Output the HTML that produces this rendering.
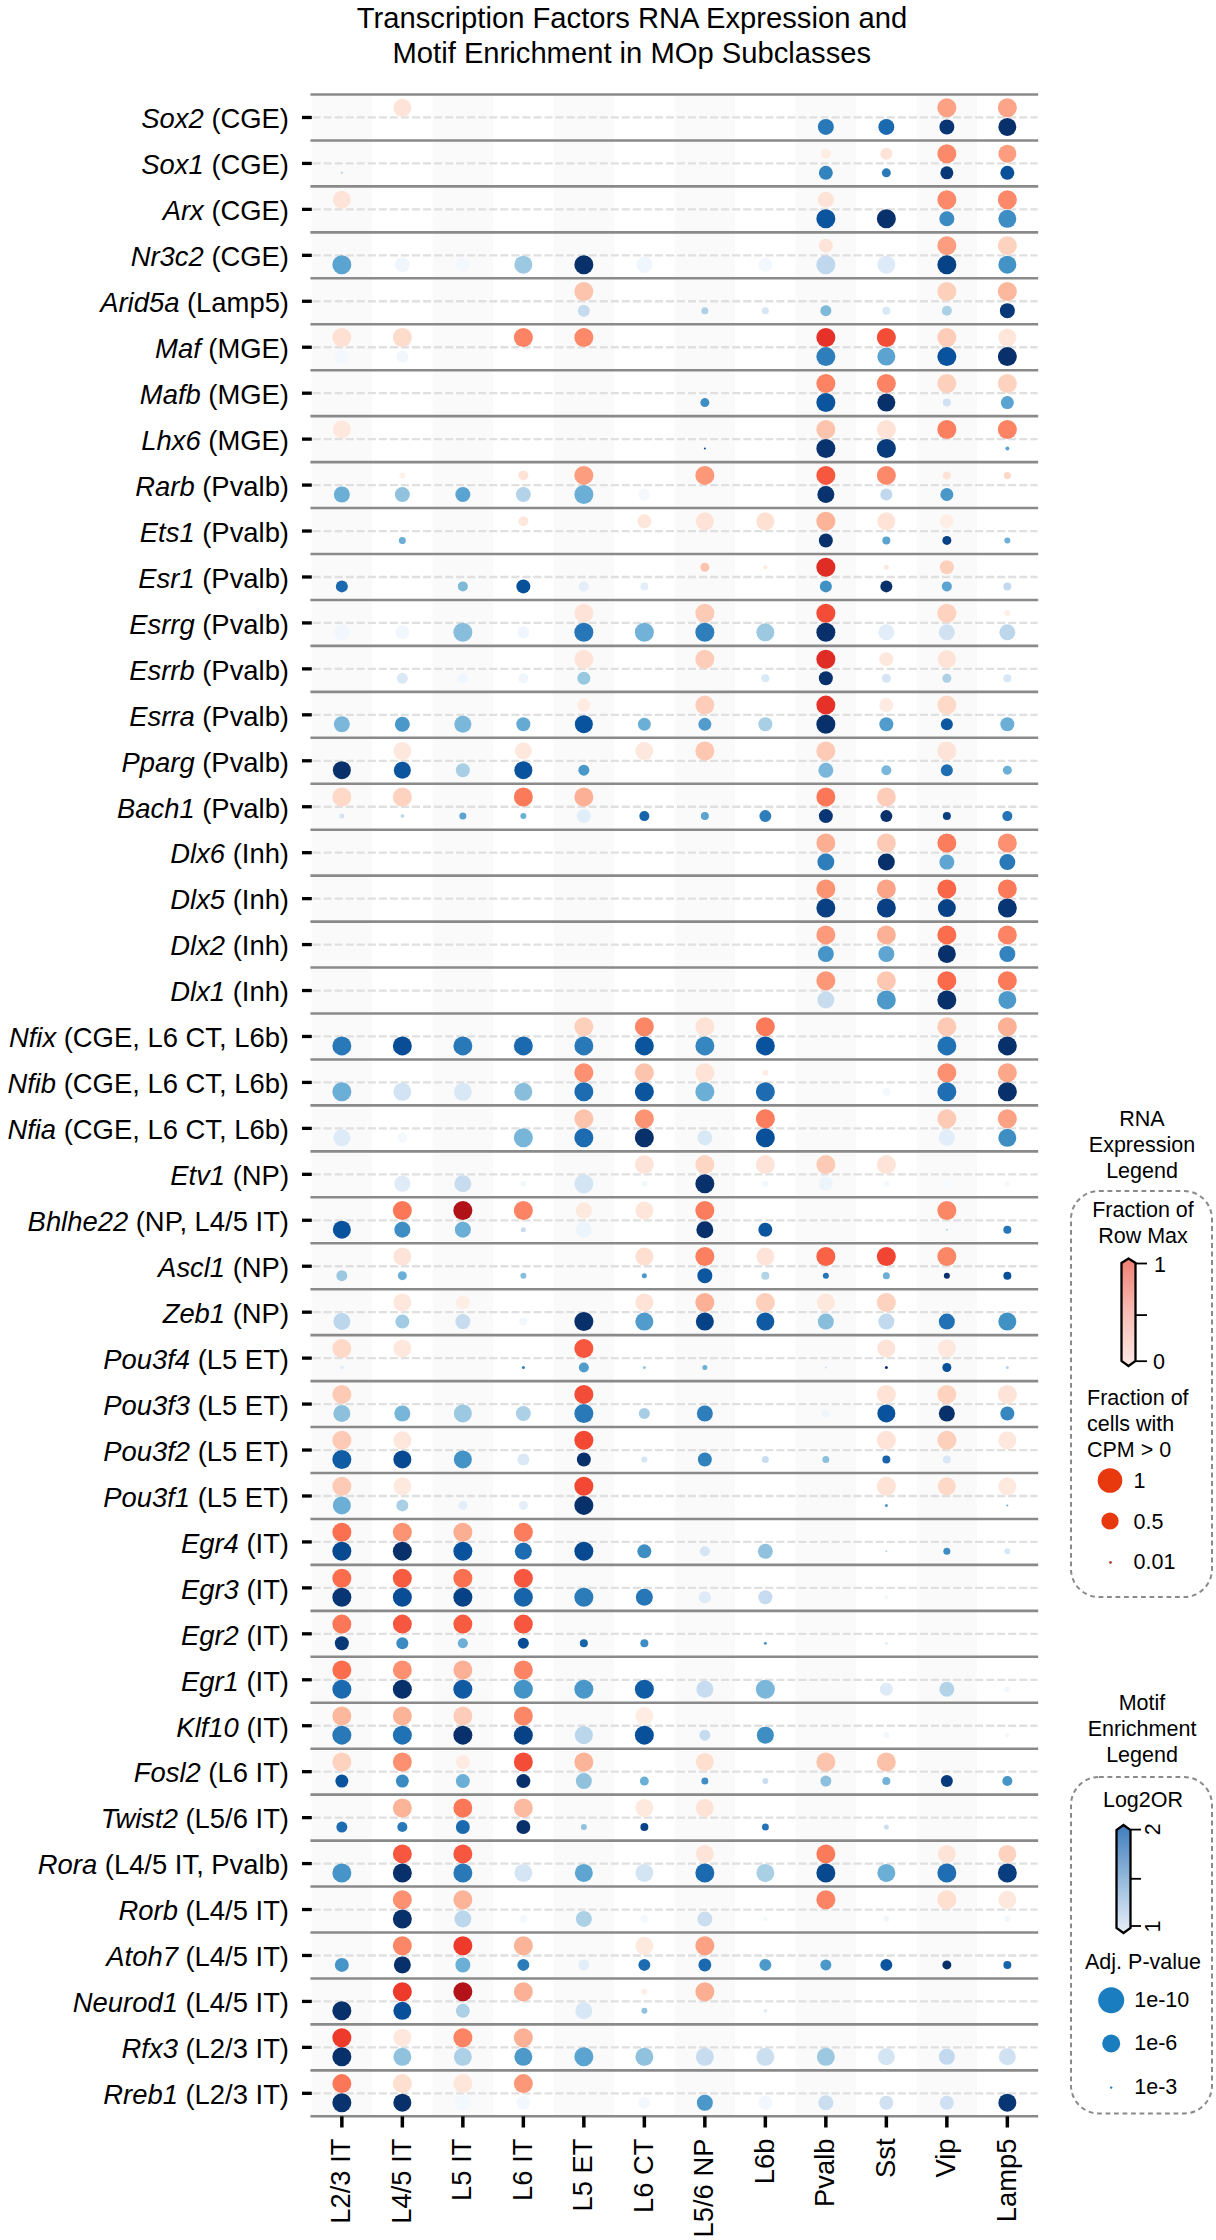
<!DOCTYPE html><html><head><meta charset="utf-8"><style>html,body{margin:0;padding:0;background:#fff;}svg{display:block;font-family:"Liberation Sans",sans-serif;}</style></head><body>
<svg width="1216" height="2240" viewBox="0 0 1216 2240">
<rect width="1216" height="2240" fill="#fff"/>
<rect x="311.60" y="94.50" width="60.50" height="2021.80" fill="#fafafa"/>
<rect x="432.60" y="94.50" width="60.50" height="2021.80" fill="#fafafa"/>
<rect x="553.60" y="94.50" width="60.50" height="2021.80" fill="#fafafa"/>
<rect x="674.60" y="94.50" width="60.50" height="2021.80" fill="#fafafa"/>
<rect x="795.60" y="94.50" width="60.50" height="2021.80" fill="#fafafa"/>
<rect x="916.60" y="94.50" width="60.50" height="2021.80" fill="#fafafa"/>
<line x1="312.6" y1="117.47" x2="1037.6" y2="117.47" stroke="#e0e0e0" stroke-width="2.3" stroke-dasharray="8.03 3.012"/>
<line x1="312.6" y1="163.43" x2="1037.6" y2="163.43" stroke="#e0e0e0" stroke-width="2.3" stroke-dasharray="8.03 3.012"/>
<line x1="312.6" y1="209.38" x2="1037.6" y2="209.38" stroke="#e0e0e0" stroke-width="2.3" stroke-dasharray="8.03 3.012"/>
<line x1="312.6" y1="255.33" x2="1037.6" y2="255.33" stroke="#e0e0e0" stroke-width="2.3" stroke-dasharray="8.03 3.012"/>
<line x1="312.6" y1="301.27" x2="1037.6" y2="301.27" stroke="#e0e0e0" stroke-width="2.3" stroke-dasharray="8.03 3.012"/>
<line x1="312.6" y1="347.23" x2="1037.6" y2="347.23" stroke="#e0e0e0" stroke-width="2.3" stroke-dasharray="8.03 3.012"/>
<line x1="312.6" y1="393.18" x2="1037.6" y2="393.18" stroke="#e0e0e0" stroke-width="2.3" stroke-dasharray="8.03 3.012"/>
<line x1="312.6" y1="439.12" x2="1037.6" y2="439.12" stroke="#e0e0e0" stroke-width="2.3" stroke-dasharray="8.03 3.012"/>
<line x1="312.6" y1="485.08" x2="1037.6" y2="485.08" stroke="#e0e0e0" stroke-width="2.3" stroke-dasharray="8.03 3.012"/>
<line x1="312.6" y1="531.03" x2="1037.6" y2="531.03" stroke="#e0e0e0" stroke-width="2.3" stroke-dasharray="8.03 3.012"/>
<line x1="312.6" y1="576.98" x2="1037.6" y2="576.98" stroke="#e0e0e0" stroke-width="2.3" stroke-dasharray="8.03 3.012"/>
<line x1="312.6" y1="622.93" x2="1037.6" y2="622.93" stroke="#e0e0e0" stroke-width="2.3" stroke-dasharray="8.03 3.012"/>
<line x1="312.6" y1="668.88" x2="1037.6" y2="668.88" stroke="#e0e0e0" stroke-width="2.3" stroke-dasharray="8.03 3.012"/>
<line x1="312.6" y1="714.83" x2="1037.6" y2="714.83" stroke="#e0e0e0" stroke-width="2.3" stroke-dasharray="8.03 3.012"/>
<line x1="312.6" y1="760.78" x2="1037.6" y2="760.78" stroke="#e0e0e0" stroke-width="2.3" stroke-dasharray="8.03 3.012"/>
<line x1="312.6" y1="806.73" x2="1037.6" y2="806.73" stroke="#e0e0e0" stroke-width="2.3" stroke-dasharray="8.03 3.012"/>
<line x1="312.6" y1="852.68" x2="1037.6" y2="852.68" stroke="#e0e0e0" stroke-width="2.3" stroke-dasharray="8.03 3.012"/>
<line x1="312.6" y1="898.62" x2="1037.6" y2="898.62" stroke="#e0e0e0" stroke-width="2.3" stroke-dasharray="8.03 3.012"/>
<line x1="312.6" y1="944.58" x2="1037.6" y2="944.58" stroke="#e0e0e0" stroke-width="2.3" stroke-dasharray="8.03 3.012"/>
<line x1="312.6" y1="990.53" x2="1037.6" y2="990.53" stroke="#e0e0e0" stroke-width="2.3" stroke-dasharray="8.03 3.012"/>
<line x1="312.6" y1="1036.47" x2="1037.6" y2="1036.47" stroke="#e0e0e0" stroke-width="2.3" stroke-dasharray="8.03 3.012"/>
<line x1="312.6" y1="1082.43" x2="1037.6" y2="1082.43" stroke="#e0e0e0" stroke-width="2.3" stroke-dasharray="8.03 3.012"/>
<line x1="312.6" y1="1128.38" x2="1037.6" y2="1128.38" stroke="#e0e0e0" stroke-width="2.3" stroke-dasharray="8.03 3.012"/>
<line x1="312.6" y1="1174.33" x2="1037.6" y2="1174.33" stroke="#e0e0e0" stroke-width="2.3" stroke-dasharray="8.03 3.012"/>
<line x1="312.6" y1="1220.28" x2="1037.6" y2="1220.28" stroke="#e0e0e0" stroke-width="2.3" stroke-dasharray="8.03 3.012"/>
<line x1="312.6" y1="1266.23" x2="1037.6" y2="1266.23" stroke="#e0e0e0" stroke-width="2.3" stroke-dasharray="8.03 3.012"/>
<line x1="312.6" y1="1312.18" x2="1037.6" y2="1312.18" stroke="#e0e0e0" stroke-width="2.3" stroke-dasharray="8.03 3.012"/>
<line x1="312.6" y1="1358.12" x2="1037.6" y2="1358.12" stroke="#e0e0e0" stroke-width="2.3" stroke-dasharray="8.03 3.012"/>
<line x1="312.6" y1="1404.08" x2="1037.6" y2="1404.08" stroke="#e0e0e0" stroke-width="2.3" stroke-dasharray="8.03 3.012"/>
<line x1="312.6" y1="1450.03" x2="1037.6" y2="1450.03" stroke="#e0e0e0" stroke-width="2.3" stroke-dasharray="8.03 3.012"/>
<line x1="312.6" y1="1495.98" x2="1037.6" y2="1495.98" stroke="#e0e0e0" stroke-width="2.3" stroke-dasharray="8.03 3.012"/>
<line x1="312.6" y1="1541.93" x2="1037.6" y2="1541.93" stroke="#e0e0e0" stroke-width="2.3" stroke-dasharray="8.03 3.012"/>
<line x1="312.6" y1="1587.88" x2="1037.6" y2="1587.88" stroke="#e0e0e0" stroke-width="2.3" stroke-dasharray="8.03 3.012"/>
<line x1="312.6" y1="1633.83" x2="1037.6" y2="1633.83" stroke="#e0e0e0" stroke-width="2.3" stroke-dasharray="8.03 3.012"/>
<line x1="312.6" y1="1679.78" x2="1037.6" y2="1679.78" stroke="#e0e0e0" stroke-width="2.3" stroke-dasharray="8.03 3.012"/>
<line x1="312.6" y1="1725.73" x2="1037.6" y2="1725.73" stroke="#e0e0e0" stroke-width="2.3" stroke-dasharray="8.03 3.012"/>
<line x1="312.6" y1="1771.68" x2="1037.6" y2="1771.68" stroke="#e0e0e0" stroke-width="2.3" stroke-dasharray="8.03 3.012"/>
<line x1="312.6" y1="1817.62" x2="1037.6" y2="1817.62" stroke="#e0e0e0" stroke-width="2.3" stroke-dasharray="8.03 3.012"/>
<line x1="312.6" y1="1863.58" x2="1037.6" y2="1863.58" stroke="#e0e0e0" stroke-width="2.3" stroke-dasharray="8.03 3.012"/>
<line x1="312.6" y1="1909.53" x2="1037.6" y2="1909.53" stroke="#e0e0e0" stroke-width="2.3" stroke-dasharray="8.03 3.012"/>
<line x1="312.6" y1="1955.48" x2="1037.6" y2="1955.48" stroke="#e0e0e0" stroke-width="2.3" stroke-dasharray="8.03 3.012"/>
<line x1="312.6" y1="2001.43" x2="1037.6" y2="2001.43" stroke="#e0e0e0" stroke-width="2.3" stroke-dasharray="8.03 3.012"/>
<line x1="312.6" y1="2047.38" x2="1037.6" y2="2047.38" stroke="#e0e0e0" stroke-width="2.3" stroke-dasharray="8.03 3.012"/>
<line x1="312.6" y1="2093.32" x2="1037.6" y2="2093.32" stroke="#e0e0e0" stroke-width="2.3" stroke-dasharray="8.03 3.012"/>
<line x1="310.4" y1="94.50" x2="1038.2" y2="94.50" stroke="#8a8a8a" stroke-width="2.6"/>
<line x1="310.4" y1="140.45" x2="1038.2" y2="140.45" stroke="#8a8a8a" stroke-width="2.6"/>
<line x1="310.4" y1="186.40" x2="1038.2" y2="186.40" stroke="#8a8a8a" stroke-width="2.6"/>
<line x1="310.4" y1="232.35" x2="1038.2" y2="232.35" stroke="#8a8a8a" stroke-width="2.6"/>
<line x1="310.4" y1="278.30" x2="1038.2" y2="278.30" stroke="#8a8a8a" stroke-width="2.6"/>
<line x1="310.4" y1="324.25" x2="1038.2" y2="324.25" stroke="#8a8a8a" stroke-width="2.6"/>
<line x1="310.4" y1="370.20" x2="1038.2" y2="370.20" stroke="#8a8a8a" stroke-width="2.6"/>
<line x1="310.4" y1="416.15" x2="1038.2" y2="416.15" stroke="#8a8a8a" stroke-width="2.6"/>
<line x1="310.4" y1="462.10" x2="1038.2" y2="462.10" stroke="#8a8a8a" stroke-width="2.6"/>
<line x1="310.4" y1="508.05" x2="1038.2" y2="508.05" stroke="#8a8a8a" stroke-width="2.6"/>
<line x1="310.4" y1="554.00" x2="1038.2" y2="554.00" stroke="#8a8a8a" stroke-width="2.6"/>
<line x1="310.4" y1="599.95" x2="1038.2" y2="599.95" stroke="#8a8a8a" stroke-width="2.6"/>
<line x1="310.4" y1="645.90" x2="1038.2" y2="645.90" stroke="#8a8a8a" stroke-width="2.6"/>
<line x1="310.4" y1="691.85" x2="1038.2" y2="691.85" stroke="#8a8a8a" stroke-width="2.6"/>
<line x1="310.4" y1="737.80" x2="1038.2" y2="737.80" stroke="#8a8a8a" stroke-width="2.6"/>
<line x1="310.4" y1="783.75" x2="1038.2" y2="783.75" stroke="#8a8a8a" stroke-width="2.6"/>
<line x1="310.4" y1="829.70" x2="1038.2" y2="829.70" stroke="#8a8a8a" stroke-width="2.6"/>
<line x1="310.4" y1="875.65" x2="1038.2" y2="875.65" stroke="#8a8a8a" stroke-width="2.6"/>
<line x1="310.4" y1="921.60" x2="1038.2" y2="921.60" stroke="#8a8a8a" stroke-width="2.6"/>
<line x1="310.4" y1="967.55" x2="1038.2" y2="967.55" stroke="#8a8a8a" stroke-width="2.6"/>
<line x1="310.4" y1="1013.50" x2="1038.2" y2="1013.50" stroke="#8a8a8a" stroke-width="2.6"/>
<line x1="310.4" y1="1059.45" x2="1038.2" y2="1059.45" stroke="#8a8a8a" stroke-width="2.6"/>
<line x1="310.4" y1="1105.40" x2="1038.2" y2="1105.40" stroke="#8a8a8a" stroke-width="2.6"/>
<line x1="310.4" y1="1151.35" x2="1038.2" y2="1151.35" stroke="#8a8a8a" stroke-width="2.6"/>
<line x1="310.4" y1="1197.30" x2="1038.2" y2="1197.30" stroke="#8a8a8a" stroke-width="2.6"/>
<line x1="310.4" y1="1243.25" x2="1038.2" y2="1243.25" stroke="#8a8a8a" stroke-width="2.6"/>
<line x1="310.4" y1="1289.20" x2="1038.2" y2="1289.20" stroke="#8a8a8a" stroke-width="2.6"/>
<line x1="310.4" y1="1335.15" x2="1038.2" y2="1335.15" stroke="#8a8a8a" stroke-width="2.6"/>
<line x1="310.4" y1="1381.10" x2="1038.2" y2="1381.10" stroke="#8a8a8a" stroke-width="2.6"/>
<line x1="310.4" y1="1427.05" x2="1038.2" y2="1427.05" stroke="#8a8a8a" stroke-width="2.6"/>
<line x1="310.4" y1="1473.00" x2="1038.2" y2="1473.00" stroke="#8a8a8a" stroke-width="2.6"/>
<line x1="310.4" y1="1518.95" x2="1038.2" y2="1518.95" stroke="#8a8a8a" stroke-width="2.6"/>
<line x1="310.4" y1="1564.90" x2="1038.2" y2="1564.90" stroke="#8a8a8a" stroke-width="2.6"/>
<line x1="310.4" y1="1610.85" x2="1038.2" y2="1610.85" stroke="#8a8a8a" stroke-width="2.6"/>
<line x1="310.4" y1="1656.80" x2="1038.2" y2="1656.80" stroke="#8a8a8a" stroke-width="2.6"/>
<line x1="310.4" y1="1702.75" x2="1038.2" y2="1702.75" stroke="#8a8a8a" stroke-width="2.6"/>
<line x1="310.4" y1="1748.70" x2="1038.2" y2="1748.70" stroke="#8a8a8a" stroke-width="2.6"/>
<line x1="310.4" y1="1794.65" x2="1038.2" y2="1794.65" stroke="#8a8a8a" stroke-width="2.6"/>
<line x1="310.4" y1="1840.60" x2="1038.2" y2="1840.60" stroke="#8a8a8a" stroke-width="2.6"/>
<line x1="310.4" y1="1886.55" x2="1038.2" y2="1886.55" stroke="#8a8a8a" stroke-width="2.6"/>
<line x1="310.4" y1="1932.50" x2="1038.2" y2="1932.50" stroke="#8a8a8a" stroke-width="2.6"/>
<line x1="310.4" y1="1978.45" x2="1038.2" y2="1978.45" stroke="#8a8a8a" stroke-width="2.6"/>
<line x1="310.4" y1="2024.40" x2="1038.2" y2="2024.40" stroke="#8a8a8a" stroke-width="2.6"/>
<line x1="310.4" y1="2070.35" x2="1038.2" y2="2070.35" stroke="#8a8a8a" stroke-width="2.6"/>
<line x1="310.4" y1="2116.30" x2="1038.2" y2="2116.30" stroke="#8a8a8a" stroke-width="2.6"/>
<circle cx="402.35" cy="107.77" r="9.00" fill="#fee4d8"/>
<circle cx="946.85" cy="107.77" r="9.50" fill="#fca183"/>
<circle cx="1007.35" cy="107.77" r="9.50" fill="#fca487"/>
<circle cx="825.85" cy="126.88" r="8.00" fill="#2979b9"/>
<circle cx="886.35" cy="126.88" r="8.00" fill="#1b69af"/>
<circle cx="946.85" cy="126.88" r="7.50" fill="#083573"/>
<circle cx="1007.35" cy="126.88" r="9.00" fill="#08306b"/>
<circle cx="825.85" cy="153.73" r="5.00" fill="#ffede4"/>
<circle cx="886.35" cy="153.73" r="6.00" fill="#fee4d8"/>
<circle cx="946.85" cy="153.73" r="9.50" fill="#fc8a6a"/>
<circle cx="1007.35" cy="153.73" r="9.00" fill="#fc9d7f"/>
<circle cx="341.85" cy="172.83" r="1.00" fill="#a6cde4"/>
<circle cx="825.85" cy="172.83" r="7.00" fill="#3383bf"/>
<circle cx="886.35" cy="172.83" r="4.50" fill="#2979b9"/>
<circle cx="946.85" cy="172.83" r="6.50" fill="#083877"/>
<circle cx="1007.35" cy="172.83" r="7.00" fill="#08509a"/>
<circle cx="341.85" cy="199.68" r="9.00" fill="#fee4d8"/>
<circle cx="825.85" cy="199.68" r="8.00" fill="#fee4d8"/>
<circle cx="946.85" cy="199.68" r="9.50" fill="#fc8a6a"/>
<circle cx="1007.35" cy="199.68" r="9.50" fill="#fc8a6a"/>
<circle cx="825.85" cy="218.78" r="9.50" fill="#0b559f"/>
<circle cx="886.35" cy="218.78" r="9.50" fill="#08306b"/>
<circle cx="946.85" cy="218.78" r="7.50" fill="#3b8bc3"/>
<circle cx="1007.35" cy="218.78" r="9.00" fill="#3e8ec4"/>
<circle cx="825.85" cy="245.63" r="7.00" fill="#fee4d8"/>
<circle cx="946.85" cy="245.63" r="9.50" fill="#fc9d7f"/>
<circle cx="1007.35" cy="245.63" r="9.50" fill="#fdd3c0"/>
<circle cx="341.85" cy="264.73" r="9.50" fill="#5ba3d0"/>
<circle cx="402.35" cy="264.73" r="7.50" fill="#f0f6fd"/>
<circle cx="462.85" cy="264.73" r="7.00" fill="#f2f8fd"/>
<circle cx="523.35" cy="264.73" r="9.00" fill="#9cc9e1"/>
<circle cx="583.85" cy="264.73" r="9.50" fill="#08306b"/>
<circle cx="644.35" cy="264.73" r="8.00" fill="#f0f6fd"/>
<circle cx="765.35" cy="264.73" r="7.00" fill="#f2f8fd"/>
<circle cx="825.85" cy="264.73" r="9.50" fill="#c0d8ed"/>
<circle cx="886.35" cy="264.73" r="9.00" fill="#ddeaf7"/>
<circle cx="946.85" cy="264.73" r="9.50" fill="#084286"/>
<circle cx="1007.35" cy="264.73" r="9.00" fill="#4493c7"/>
<circle cx="583.85" cy="291.57" r="9.50" fill="#fcc4ad"/>
<circle cx="946.85" cy="291.57" r="9.50" fill="#fdd0bc"/>
<circle cx="1007.35" cy="291.57" r="9.50" fill="#fcb89d"/>
<circle cx="583.85" cy="310.67" r="6.00" fill="#c6dbef"/>
<circle cx="704.85" cy="310.67" r="3.50" fill="#acd0e6"/>
<circle cx="765.35" cy="310.67" r="3.50" fill="#d5e5f4"/>
<circle cx="825.85" cy="310.67" r="5.50" fill="#7fb9da"/>
<circle cx="886.35" cy="310.67" r="4.00" fill="#d9e8f5"/>
<circle cx="946.85" cy="310.67" r="5.00" fill="#acd0e6"/>
<circle cx="1007.35" cy="310.67" r="7.50" fill="#083877"/>
<circle cx="341.85" cy="337.53" r="9.50" fill="#fee1d3"/>
<circle cx="402.35" cy="337.53" r="9.50" fill="#fedccc"/>
<circle cx="523.35" cy="337.53" r="9.50" fill="#fc8464"/>
<circle cx="583.85" cy="337.53" r="9.50" fill="#fc8a6a"/>
<circle cx="825.85" cy="337.53" r="9.50" fill="#e53128"/>
<circle cx="886.35" cy="337.53" r="9.50" fill="#f34c37"/>
<circle cx="946.85" cy="337.53" r="9.50" fill="#fdcdb9"/>
<circle cx="1007.35" cy="337.53" r="9.00" fill="#fee6da"/>
<circle cx="341.85" cy="356.62" r="7.00" fill="#f2f8fd"/>
<circle cx="402.35" cy="356.62" r="6.00" fill="#f1f7fd"/>
<circle cx="825.85" cy="356.62" r="9.50" fill="#2e7ebc"/>
<circle cx="886.35" cy="356.62" r="9.00" fill="#5ba3d0"/>
<circle cx="946.85" cy="356.62" r="9.50" fill="#09529d"/>
<circle cx="1007.35" cy="356.62" r="9.50" fill="#08306b"/>
<circle cx="825.85" cy="383.48" r="9.50" fill="#fc8464"/>
<circle cx="886.35" cy="383.48" r="9.50" fill="#fc8464"/>
<circle cx="946.85" cy="383.48" r="9.50" fill="#fdd0bc"/>
<circle cx="1007.35" cy="383.48" r="9.50" fill="#fdd3c0"/>
<circle cx="704.85" cy="402.57" r="4.50" fill="#3e8ec4"/>
<circle cx="825.85" cy="402.57" r="9.50" fill="#0b559f"/>
<circle cx="886.35" cy="402.57" r="9.00" fill="#08306b"/>
<circle cx="946.85" cy="402.57" r="4.00" fill="#d0e1f2"/>
<circle cx="1007.35" cy="402.57" r="6.50" fill="#5ba3d0"/>
<circle cx="341.85" cy="429.43" r="9.00" fill="#fee8dd"/>
<circle cx="825.85" cy="429.43" r="9.50" fill="#fcc4ad"/>
<circle cx="886.35" cy="429.43" r="9.50" fill="#fee3d6"/>
<circle cx="946.85" cy="429.43" r="9.50" fill="#fc8060"/>
<circle cx="1007.35" cy="429.43" r="9.50" fill="#fc8464"/>
<circle cx="704.85" cy="448.52" r="1.00" fill="#084a92"/>
<circle cx="825.85" cy="448.52" r="9.50" fill="#08336f"/>
<circle cx="886.35" cy="448.52" r="9.50" fill="#083b7b"/>
<circle cx="1007.35" cy="448.52" r="2.00" fill="#5ba3d0"/>
<circle cx="402.35" cy="475.38" r="3.00" fill="#fff0e9"/>
<circle cx="523.35" cy="475.38" r="5.00" fill="#fee3d6"/>
<circle cx="583.85" cy="475.38" r="9.50" fill="#fc9d7f"/>
<circle cx="704.85" cy="475.38" r="9.50" fill="#fc9778"/>
<circle cx="825.85" cy="475.38" r="9.50" fill="#f6573e"/>
<circle cx="886.35" cy="475.38" r="9.50" fill="#fc8a6a"/>
<circle cx="946.85" cy="475.38" r="4.00" fill="#fee3d6"/>
<circle cx="1007.35" cy="475.38" r="3.50" fill="#fdd6c4"/>
<circle cx="341.85" cy="494.48" r="8.00" fill="#6baed6"/>
<circle cx="402.35" cy="494.48" r="7.50" fill="#90c2de"/>
<circle cx="462.85" cy="494.48" r="7.50" fill="#5ba3d0"/>
<circle cx="523.35" cy="494.48" r="7.50" fill="#b3d3e8"/>
<circle cx="583.85" cy="494.48" r="9.50" fill="#6baed6"/>
<circle cx="644.35" cy="494.48" r="6.00" fill="#f5f9fe"/>
<circle cx="825.85" cy="494.48" r="8.50" fill="#08336f"/>
<circle cx="886.35" cy="494.48" r="6.00" fill="#c0d8ed"/>
<circle cx="946.85" cy="494.48" r="6.50" fill="#4a98c9"/>
<circle cx="523.35" cy="521.33" r="5.00" fill="#fee8dd"/>
<circle cx="644.35" cy="521.33" r="7.00" fill="#fee6da"/>
<circle cx="704.85" cy="521.33" r="9.00" fill="#fee3d6"/>
<circle cx="765.35" cy="521.33" r="9.00" fill="#fee1d3"/>
<circle cx="825.85" cy="521.33" r="9.50" fill="#fcb499"/>
<circle cx="886.35" cy="521.33" r="9.00" fill="#fee3d6"/>
<circle cx="946.85" cy="521.33" r="7.00" fill="#ffeee6"/>
<circle cx="402.35" cy="540.43" r="3.50" fill="#6baed6"/>
<circle cx="825.85" cy="540.43" r="7.00" fill="#08306b"/>
<circle cx="886.35" cy="540.43" r="4.00" fill="#5ba3d0"/>
<circle cx="946.85" cy="540.43" r="4.50" fill="#084286"/>
<circle cx="1007.35" cy="540.43" r="3.00" fill="#6baed6"/>
<circle cx="704.85" cy="567.27" r="4.50" fill="#fcc4ad"/>
<circle cx="765.35" cy="567.27" r="2.00" fill="#fee8dd"/>
<circle cx="825.85" cy="567.27" r="9.50" fill="#df2c25"/>
<circle cx="886.35" cy="567.27" r="2.50" fill="#fee8dd"/>
<circle cx="946.85" cy="567.27" r="7.00" fill="#fdd0bc"/>
<circle cx="341.85" cy="586.38" r="6.00" fill="#1b69af"/>
<circle cx="462.85" cy="586.38" r="5.00" fill="#7fb9da"/>
<circle cx="523.35" cy="586.38" r="7.00" fill="#08509a"/>
<circle cx="583.85" cy="586.38" r="5.00" fill="#e3eef9"/>
<circle cx="644.35" cy="586.38" r="4.00" fill="#e3eef9"/>
<circle cx="825.85" cy="586.38" r="6.00" fill="#4191c5"/>
<circle cx="886.35" cy="586.38" r="6.00" fill="#08306b"/>
<circle cx="946.85" cy="586.38" r="5.00" fill="#5ba3d0"/>
<circle cx="1007.35" cy="586.38" r="4.00" fill="#c3daee"/>
<circle cx="583.85" cy="613.23" r="9.50" fill="#fee4d8"/>
<circle cx="704.85" cy="613.23" r="9.50" fill="#fdcab5"/>
<circle cx="825.85" cy="613.23" r="9.50" fill="#f34c37"/>
<circle cx="946.85" cy="613.23" r="9.50" fill="#fdd3c0"/>
<circle cx="1007.35" cy="613.23" r="3.00" fill="#ffeee6"/>
<circle cx="341.85" cy="632.33" r="8.00" fill="#f1f7fd"/>
<circle cx="402.35" cy="632.33" r="7.00" fill="#f1f7fd"/>
<circle cx="462.85" cy="632.33" r="9.50" fill="#88bedc"/>
<circle cx="523.35" cy="632.33" r="6.00" fill="#f0f6fd"/>
<circle cx="583.85" cy="632.33" r="9.50" fill="#2676b8"/>
<circle cx="644.35" cy="632.33" r="9.50" fill="#73b2d8"/>
<circle cx="704.85" cy="632.33" r="9.50" fill="#2e7ebc"/>
<circle cx="765.35" cy="632.33" r="9.00" fill="#9cc9e1"/>
<circle cx="825.85" cy="632.33" r="9.50" fill="#08306b"/>
<circle cx="886.35" cy="632.33" r="8.00" fill="#e1edf8"/>
<circle cx="946.85" cy="632.33" r="8.00" fill="#d0e1f2"/>
<circle cx="1007.35" cy="632.33" r="8.00" fill="#bcd7ec"/>
<circle cx="583.85" cy="659.17" r="9.50" fill="#fee4d8"/>
<circle cx="704.85" cy="659.17" r="9.50" fill="#fdcdb9"/>
<circle cx="825.85" cy="659.17" r="9.50" fill="#df2c25"/>
<circle cx="886.35" cy="659.17" r="7.00" fill="#fee8dd"/>
<circle cx="946.85" cy="659.17" r="9.00" fill="#fee3d6"/>
<circle cx="402.35" cy="678.27" r="5.50" fill="#dbe9f6"/>
<circle cx="462.85" cy="678.27" r="5.00" fill="#f0f6fd"/>
<circle cx="523.35" cy="678.27" r="5.00" fill="#f0f6fd"/>
<circle cx="583.85" cy="678.27" r="6.50" fill="#98c7e0"/>
<circle cx="765.35" cy="678.27" r="4.00" fill="#d9e8f5"/>
<circle cx="825.85" cy="678.27" r="7.00" fill="#08306b"/>
<circle cx="886.35" cy="678.27" r="4.50" fill="#d5e5f4"/>
<circle cx="946.85" cy="678.27" r="4.50" fill="#acd0e6"/>
<circle cx="1007.35" cy="678.27" r="4.00" fill="#d7e7f5"/>
<circle cx="583.85" cy="705.12" r="6.50" fill="#ffebe2"/>
<circle cx="704.85" cy="705.12" r="9.50" fill="#fdcdb9"/>
<circle cx="825.85" cy="705.12" r="9.50" fill="#e53128"/>
<circle cx="886.35" cy="705.12" r="7.00" fill="#ffebe2"/>
<circle cx="946.85" cy="705.12" r="9.50" fill="#fed9c8"/>
<circle cx="341.85" cy="724.23" r="8.00" fill="#7bb7da"/>
<circle cx="402.35" cy="724.23" r="7.50" fill="#4a98c9"/>
<circle cx="462.85" cy="724.23" r="8.50" fill="#7bb7da"/>
<circle cx="523.35" cy="724.23" r="7.00" fill="#64aad3"/>
<circle cx="583.85" cy="724.23" r="9.00" fill="#09529d"/>
<circle cx="644.35" cy="724.23" r="6.50" fill="#6baed6"/>
<circle cx="704.85" cy="724.23" r="6.50" fill="#519ccc"/>
<circle cx="765.35" cy="724.23" r="7.00" fill="#a9cfe5"/>
<circle cx="825.85" cy="724.23" r="9.50" fill="#08306b"/>
<circle cx="886.35" cy="724.23" r="7.00" fill="#519ccc"/>
<circle cx="946.85" cy="724.23" r="6.00" fill="#0d57a1"/>
<circle cx="1007.35" cy="724.23" r="7.00" fill="#6baed6"/>
<circle cx="402.35" cy="751.08" r="9.00" fill="#fee8dd"/>
<circle cx="523.35" cy="751.08" r="8.50" fill="#fee8dd"/>
<circle cx="644.35" cy="751.08" r="9.00" fill="#fee8dd"/>
<circle cx="704.85" cy="751.08" r="9.50" fill="#fdc7b1"/>
<circle cx="825.85" cy="751.08" r="9.50" fill="#fdcab5"/>
<circle cx="946.85" cy="751.08" r="9.50" fill="#fee4d8"/>
<circle cx="341.85" cy="770.18" r="9.00" fill="#08306b"/>
<circle cx="402.35" cy="770.18" r="8.50" fill="#0b559f"/>
<circle cx="462.85" cy="770.18" r="7.00" fill="#a9cfe5"/>
<circle cx="523.35" cy="770.18" r="9.00" fill="#09529d"/>
<circle cx="583.85" cy="770.18" r="5.50" fill="#4a98c9"/>
<circle cx="825.85" cy="770.18" r="7.50" fill="#7bb7da"/>
<circle cx="886.35" cy="770.18" r="5.00" fill="#7bb7da"/>
<circle cx="946.85" cy="770.18" r="6.00" fill="#1f6eb3"/>
<circle cx="1007.35" cy="770.18" r="4.50" fill="#6baed6"/>
<circle cx="341.85" cy="797.02" r="9.50" fill="#fed9c8"/>
<circle cx="402.35" cy="797.02" r="9.50" fill="#fdd3c0"/>
<circle cx="523.35" cy="797.02" r="9.50" fill="#fb7a5a"/>
<circle cx="583.85" cy="797.02" r="9.50" fill="#fcb196"/>
<circle cx="825.85" cy="797.02" r="9.50" fill="#fb7757"/>
<circle cx="886.35" cy="797.02" r="9.50" fill="#fdcdb9"/>
<circle cx="341.85" cy="816.12" r="2.50" fill="#d3e4f3"/>
<circle cx="402.35" cy="816.12" r="2.00" fill="#c3daee"/>
<circle cx="462.85" cy="816.12" r="3.50" fill="#5ba3d0"/>
<circle cx="523.35" cy="816.12" r="3.00" fill="#6baed6"/>
<circle cx="583.85" cy="816.12" r="7.00" fill="#e1edf8"/>
<circle cx="644.35" cy="816.12" r="5.00" fill="#1764ab"/>
<circle cx="704.85" cy="816.12" r="4.00" fill="#5ba3d0"/>
<circle cx="765.35" cy="816.12" r="6.00" fill="#2e7ebc"/>
<circle cx="825.85" cy="816.12" r="7.00" fill="#083573"/>
<circle cx="886.35" cy="816.12" r="6.00" fill="#08306b"/>
<circle cx="946.85" cy="816.12" r="4.00" fill="#083d7f"/>
<circle cx="1007.35" cy="816.12" r="5.00" fill="#2474b6"/>
<circle cx="825.85" cy="842.98" r="9.50" fill="#fcae92"/>
<circle cx="886.35" cy="842.98" r="9.50" fill="#fdcab5"/>
<circle cx="946.85" cy="842.98" r="9.50" fill="#fb7d5d"/>
<circle cx="1007.35" cy="842.98" r="9.50" fill="#fc9070"/>
<circle cx="825.85" cy="862.08" r="8.50" fill="#2e7ebc"/>
<circle cx="886.35" cy="862.08" r="8.50" fill="#08306b"/>
<circle cx="946.85" cy="862.08" r="7.50" fill="#5ea5d1"/>
<circle cx="1007.35" cy="862.08" r="8.00" fill="#2979b9"/>
<circle cx="825.85" cy="888.92" r="9.50" fill="#fc9474"/>
<circle cx="886.35" cy="888.92" r="9.50" fill="#fca487"/>
<circle cx="946.85" cy="888.92" r="9.50" fill="#fa6648"/>
<circle cx="1007.35" cy="888.92" r="9.50" fill="#fb7a5a"/>
<circle cx="825.85" cy="908.02" r="9.50" fill="#084083"/>
<circle cx="886.35" cy="908.02" r="9.50" fill="#084083"/>
<circle cx="946.85" cy="908.02" r="9.00" fill="#084286"/>
<circle cx="1007.35" cy="908.02" r="9.50" fill="#083573"/>
<circle cx="825.85" cy="934.88" r="9.50" fill="#fc9a7b"/>
<circle cx="886.35" cy="934.88" r="9.50" fill="#fcb196"/>
<circle cx="946.85" cy="934.88" r="9.50" fill="#fb6d4d"/>
<circle cx="1007.35" cy="934.88" r="9.50" fill="#fc8464"/>
<circle cx="825.85" cy="953.98" r="8.00" fill="#4795c8"/>
<circle cx="886.35" cy="953.98" r="8.00" fill="#5ea5d1"/>
<circle cx="946.85" cy="953.98" r="9.00" fill="#08306b"/>
<circle cx="1007.35" cy="953.98" r="8.00" fill="#3383bf"/>
<circle cx="825.85" cy="980.83" r="9.50" fill="#fc9778"/>
<circle cx="886.35" cy="980.83" r="9.50" fill="#fdc7b1"/>
<circle cx="946.85" cy="980.83" r="9.50" fill="#fb6a4a"/>
<circle cx="1007.35" cy="980.83" r="9.50" fill="#fb7a5a"/>
<circle cx="825.85" cy="999.93" r="8.50" fill="#c8dcf0"/>
<circle cx="886.35" cy="999.93" r="9.50" fill="#4d9aca"/>
<circle cx="946.85" cy="999.93" r="9.50" fill="#08306b"/>
<circle cx="1007.35" cy="999.93" r="9.00" fill="#4d9aca"/>
<circle cx="583.85" cy="1026.77" r="9.50" fill="#fdd0bc"/>
<circle cx="644.35" cy="1026.77" r="9.50" fill="#fc8767"/>
<circle cx="704.85" cy="1026.77" r="9.50" fill="#fee3d6"/>
<circle cx="765.35" cy="1026.77" r="9.50" fill="#fb7a5a"/>
<circle cx="946.85" cy="1026.77" r="9.50" fill="#fdcab5"/>
<circle cx="1007.35" cy="1026.77" r="9.50" fill="#fcb196"/>
<circle cx="341.85" cy="1045.88" r="9.50" fill="#2979b9"/>
<circle cx="402.35" cy="1045.88" r="9.50" fill="#084d96"/>
<circle cx="462.85" cy="1045.88" r="9.50" fill="#2979b9"/>
<circle cx="523.35" cy="1045.88" r="9.50" fill="#1b69af"/>
<circle cx="583.85" cy="1045.88" r="9.50" fill="#2979b9"/>
<circle cx="644.35" cy="1045.88" r="9.50" fill="#0b559f"/>
<circle cx="704.85" cy="1045.88" r="9.50" fill="#3686c0"/>
<circle cx="765.35" cy="1045.88" r="9.50" fill="#09529d"/>
<circle cx="946.85" cy="1045.88" r="9.50" fill="#2171b5"/>
<circle cx="1007.35" cy="1045.88" r="9.50" fill="#08306b"/>
<circle cx="583.85" cy="1072.73" r="9.50" fill="#fc9070"/>
<circle cx="644.35" cy="1072.73" r="9.50" fill="#fcc4ad"/>
<circle cx="704.85" cy="1072.73" r="9.50" fill="#fee3d6"/>
<circle cx="765.35" cy="1072.73" r="3.00" fill="#ffede4"/>
<circle cx="946.85" cy="1072.73" r="9.50" fill="#fc9070"/>
<circle cx="1007.35" cy="1072.73" r="9.50" fill="#fca78a"/>
<circle cx="341.85" cy="1091.83" r="9.50" fill="#6baed6"/>
<circle cx="402.35" cy="1091.83" r="9.00" fill="#d2e3f3"/>
<circle cx="462.85" cy="1091.83" r="9.00" fill="#d9e8f5"/>
<circle cx="523.35" cy="1091.83" r="9.00" fill="#88bedc"/>
<circle cx="583.85" cy="1091.83" r="9.50" fill="#1d6cb1"/>
<circle cx="644.35" cy="1091.83" r="9.50" fill="#0b559f"/>
<circle cx="704.85" cy="1091.83" r="9.50" fill="#6baed6"/>
<circle cx="765.35" cy="1091.83" r="9.50" fill="#1d6cb1"/>
<circle cx="886.35" cy="1091.83" r="4.00" fill="#f2f8fd"/>
<circle cx="946.85" cy="1091.83" r="9.50" fill="#1f6eb3"/>
<circle cx="1007.35" cy="1091.83" r="9.50" fill="#08306b"/>
<circle cx="583.85" cy="1118.67" r="9.50" fill="#fcc4ad"/>
<circle cx="644.35" cy="1118.67" r="9.50" fill="#fc9474"/>
<circle cx="765.35" cy="1118.67" r="9.50" fill="#fb7d5d"/>
<circle cx="946.85" cy="1118.67" r="9.50" fill="#fdcab5"/>
<circle cx="1007.35" cy="1118.67" r="9.50" fill="#fca183"/>
<circle cx="341.85" cy="1137.78" r="8.50" fill="#ddeaf7"/>
<circle cx="402.35" cy="1137.78" r="5.00" fill="#f3f9fe"/>
<circle cx="523.35" cy="1137.78" r="9.50" fill="#77b5d9"/>
<circle cx="583.85" cy="1137.78" r="9.50" fill="#1d6cb1"/>
<circle cx="644.35" cy="1137.78" r="9.50" fill="#08306b"/>
<circle cx="704.85" cy="1137.78" r="7.50" fill="#d9e8f5"/>
<circle cx="765.35" cy="1137.78" r="9.50" fill="#08509a"/>
<circle cx="946.85" cy="1137.78" r="8.00" fill="#e1edf8"/>
<circle cx="1007.35" cy="1137.78" r="9.00" fill="#3e8ec4"/>
<circle cx="644.35" cy="1164.62" r="9.50" fill="#fee4d8"/>
<circle cx="704.85" cy="1164.62" r="9.50" fill="#fdd6c4"/>
<circle cx="765.35" cy="1164.62" r="9.50" fill="#fee4d8"/>
<circle cx="825.85" cy="1164.62" r="9.50" fill="#fdcab5"/>
<circle cx="886.35" cy="1164.62" r="9.50" fill="#fee4d8"/>
<circle cx="402.35" cy="1183.73" r="8.00" fill="#dfecf7"/>
<circle cx="462.85" cy="1183.73" r="8.50" fill="#c8dcf0"/>
<circle cx="523.35" cy="1183.73" r="3.00" fill="#f1f7fd"/>
<circle cx="583.85" cy="1183.73" r="9.50" fill="#d3e4f3"/>
<circle cx="644.35" cy="1183.73" r="3.00" fill="#f1f7fd"/>
<circle cx="704.85" cy="1183.73" r="9.50" fill="#08306b"/>
<circle cx="765.35" cy="1183.73" r="3.00" fill="#f1f7fd"/>
<circle cx="825.85" cy="1183.73" r="7.00" fill="#ecf4fc"/>
<circle cx="886.35" cy="1183.73" r="3.00" fill="#f3f9fe"/>
<circle cx="946.85" cy="1183.73" r="5.00" fill="#f7fbff"/>
<circle cx="1007.35" cy="1183.73" r="3.00" fill="#f5f9fe"/>
<circle cx="402.35" cy="1210.58" r="9.50" fill="#fb7757"/>
<circle cx="462.85" cy="1210.58" r="9.50" fill="#b01217"/>
<circle cx="523.35" cy="1210.58" r="9.50" fill="#fc8464"/>
<circle cx="583.85" cy="1210.58" r="8.00" fill="#fee9df"/>
<circle cx="644.35" cy="1210.58" r="9.00" fill="#fee6da"/>
<circle cx="704.85" cy="1210.58" r="9.50" fill="#fb7d5d"/>
<circle cx="946.85" cy="1210.58" r="9.50" fill="#fc8767"/>
<circle cx="341.85" cy="1229.68" r="9.00" fill="#09529d"/>
<circle cx="402.35" cy="1229.68" r="8.00" fill="#3e8ec4"/>
<circle cx="462.85" cy="1229.68" r="8.00" fill="#6baed6"/>
<circle cx="523.35" cy="1229.68" r="2.50" fill="#c8dcf0"/>
<circle cx="583.85" cy="1229.68" r="8.00" fill="#edf5fc"/>
<circle cx="704.85" cy="1229.68" r="8.50" fill="#08306b"/>
<circle cx="765.35" cy="1229.68" r="7.00" fill="#0b559f"/>
<circle cx="946.85" cy="1229.68" r="1.00" fill="#b6d4e9"/>
<circle cx="1007.35" cy="1229.68" r="4.00" fill="#2676b8"/>
<circle cx="402.35" cy="1256.53" r="9.00" fill="#fee4d8"/>
<circle cx="644.35" cy="1256.53" r="9.00" fill="#fedfd0"/>
<circle cx="704.85" cy="1256.53" r="9.50" fill="#fc8060"/>
<circle cx="765.35" cy="1256.53" r="9.00" fill="#fee4d8"/>
<circle cx="825.85" cy="1256.53" r="9.50" fill="#f96245"/>
<circle cx="886.35" cy="1256.53" r="9.50" fill="#f14432"/>
<circle cx="946.85" cy="1256.53" r="9.50" fill="#fc8767"/>
<circle cx="341.85" cy="1275.63" r="5.50" fill="#9cc9e1"/>
<circle cx="402.35" cy="1275.63" r="4.50" fill="#6baed6"/>
<circle cx="523.35" cy="1275.63" r="3.00" fill="#88bedc"/>
<circle cx="644.35" cy="1275.63" r="2.50" fill="#4a98c9"/>
<circle cx="704.85" cy="1275.63" r="7.50" fill="#0d57a1"/>
<circle cx="765.35" cy="1275.63" r="4.00" fill="#b3d3e8"/>
<circle cx="825.85" cy="1275.63" r="3.00" fill="#2474b6"/>
<circle cx="886.35" cy="1275.63" r="3.50" fill="#6baed6"/>
<circle cx="946.85" cy="1275.63" r="3.00" fill="#08306b"/>
<circle cx="1007.35" cy="1275.63" r="4.00" fill="#08509a"/>
<circle cx="402.35" cy="1302.48" r="9.00" fill="#fee8dd"/>
<circle cx="462.85" cy="1302.48" r="7.00" fill="#ffeee6"/>
<circle cx="644.35" cy="1302.48" r="9.00" fill="#fee3d6"/>
<circle cx="704.85" cy="1302.48" r="9.50" fill="#fcb196"/>
<circle cx="765.35" cy="1302.48" r="9.50" fill="#fdd0bc"/>
<circle cx="825.85" cy="1302.48" r="9.00" fill="#fee8dd"/>
<circle cx="886.35" cy="1302.48" r="9.50" fill="#fdd3c0"/>
<circle cx="341.85" cy="1321.58" r="8.50" fill="#bcd7ec"/>
<circle cx="402.35" cy="1321.58" r="7.00" fill="#a0cbe2"/>
<circle cx="462.85" cy="1321.58" r="7.50" fill="#c8dcf0"/>
<circle cx="523.35" cy="1321.58" r="4.00" fill="#f1f7fd"/>
<circle cx="583.85" cy="1321.58" r="9.50" fill="#08306b"/>
<circle cx="644.35" cy="1321.58" r="9.00" fill="#519ccc"/>
<circle cx="704.85" cy="1321.58" r="9.00" fill="#084286"/>
<circle cx="765.35" cy="1321.58" r="9.00" fill="#0f5aa3"/>
<circle cx="825.85" cy="1321.58" r="8.00" fill="#88bedc"/>
<circle cx="886.35" cy="1321.58" r="8.00" fill="#c3daee"/>
<circle cx="946.85" cy="1321.58" r="8.00" fill="#2171b5"/>
<circle cx="1007.35" cy="1321.58" r="9.00" fill="#4191c5"/>
<circle cx="341.85" cy="1348.42" r="9.50" fill="#fed9c8"/>
<circle cx="402.35" cy="1348.42" r="9.00" fill="#fee8dd"/>
<circle cx="583.85" cy="1348.42" r="9.50" fill="#f6573e"/>
<circle cx="886.35" cy="1348.42" r="9.00" fill="#fee4d8"/>
<circle cx="946.85" cy="1348.42" r="9.00" fill="#fee8dd"/>
<circle cx="341.85" cy="1367.53" r="2.00" fill="#e3eef9"/>
<circle cx="523.35" cy="1367.53" r="1.50" fill="#2e7ebc"/>
<circle cx="583.85" cy="1367.53" r="5.00" fill="#519ccc"/>
<circle cx="644.35" cy="1367.53" r="1.50" fill="#94c4df"/>
<circle cx="704.85" cy="1367.53" r="2.50" fill="#6baed6"/>
<circle cx="825.85" cy="1367.53" r="1.00" fill="#d0e1f2"/>
<circle cx="886.35" cy="1367.53" r="1.50" fill="#08306b"/>
<circle cx="946.85" cy="1367.53" r="4.50" fill="#08509a"/>
<circle cx="1007.35" cy="1367.53" r="1.50" fill="#b6d4e9"/>
<circle cx="341.85" cy="1394.38" r="9.50" fill="#fdcab5"/>
<circle cx="583.85" cy="1394.38" r="9.50" fill="#f34c37"/>
<circle cx="886.35" cy="1394.38" r="9.50" fill="#fee3d6"/>
<circle cx="946.85" cy="1394.38" r="9.50" fill="#fdd3c0"/>
<circle cx="1007.35" cy="1394.38" r="9.50" fill="#fee4d8"/>
<circle cx="341.85" cy="1413.48" r="8.50" fill="#8cc0dd"/>
<circle cx="402.35" cy="1413.48" r="8.00" fill="#77b5d9"/>
<circle cx="462.85" cy="1413.48" r="9.00" fill="#9cc9e1"/>
<circle cx="523.35" cy="1413.48" r="7.50" fill="#acd0e6"/>
<circle cx="583.85" cy="1413.48" r="9.50" fill="#2979b9"/>
<circle cx="644.35" cy="1413.48" r="5.50" fill="#a6cde4"/>
<circle cx="704.85" cy="1413.48" r="8.00" fill="#2e7ebc"/>
<circle cx="825.85" cy="1413.48" r="4.00" fill="#eff6fc"/>
<circle cx="886.35" cy="1413.48" r="9.00" fill="#09529d"/>
<circle cx="946.85" cy="1413.48" r="8.00" fill="#08306b"/>
<circle cx="1007.35" cy="1413.48" r="7.00" fill="#3686c0"/>
<circle cx="341.85" cy="1440.33" r="9.50" fill="#fdcab5"/>
<circle cx="402.35" cy="1440.33" r="9.00" fill="#fee6da"/>
<circle cx="583.85" cy="1440.33" r="9.50" fill="#f24834"/>
<circle cx="886.35" cy="1440.33" r="9.50" fill="#fee3d6"/>
<circle cx="946.85" cy="1440.33" r="9.50" fill="#fdd0bc"/>
<circle cx="1007.35" cy="1440.33" r="9.00" fill="#fee8dd"/>
<circle cx="341.85" cy="1459.43" r="9.50" fill="#115da5"/>
<circle cx="402.35" cy="1459.43" r="9.00" fill="#084a92"/>
<circle cx="462.85" cy="1459.43" r="9.00" fill="#4493c7"/>
<circle cx="523.35" cy="1459.43" r="6.00" fill="#dbe9f6"/>
<circle cx="583.85" cy="1459.43" r="7.00" fill="#08306b"/>
<circle cx="644.35" cy="1459.43" r="3.00" fill="#d3e4f3"/>
<circle cx="704.85" cy="1459.43" r="7.00" fill="#3181bd"/>
<circle cx="765.35" cy="1459.43" r="3.50" fill="#c8dcf0"/>
<circle cx="825.85" cy="1459.43" r="3.50" fill="#8cc0dd"/>
<circle cx="886.35" cy="1459.43" r="4.00" fill="#1764ab"/>
<circle cx="946.85" cy="1459.43" r="4.00" fill="#d7e7f5"/>
<circle cx="341.85" cy="1486.28" r="9.50" fill="#fdcab5"/>
<circle cx="402.35" cy="1486.28" r="9.00" fill="#fee9df"/>
<circle cx="583.85" cy="1486.28" r="9.50" fill="#f24834"/>
<circle cx="886.35" cy="1486.28" r="9.50" fill="#fee3d6"/>
<circle cx="946.85" cy="1486.28" r="9.00" fill="#fed9c8"/>
<circle cx="1007.35" cy="1486.28" r="9.00" fill="#fee9df"/>
<circle cx="341.85" cy="1505.38" r="9.00" fill="#6baed6"/>
<circle cx="402.35" cy="1505.38" r="6.00" fill="#a9cfe5"/>
<circle cx="462.85" cy="1505.38" r="4.50" fill="#e3eef9"/>
<circle cx="523.35" cy="1505.38" r="4.50" fill="#e3eef9"/>
<circle cx="583.85" cy="1505.38" r="9.50" fill="#08306b"/>
<circle cx="886.35" cy="1505.38" r="1.50" fill="#4a98c9"/>
<circle cx="1007.35" cy="1505.38" r="1.00" fill="#6baed6"/>
<circle cx="341.85" cy="1532.23" r="9.50" fill="#fb7050"/>
<circle cx="402.35" cy="1532.23" r="9.50" fill="#fc9474"/>
<circle cx="462.85" cy="1532.23" r="9.50" fill="#fcae92"/>
<circle cx="523.35" cy="1532.23" r="9.50" fill="#fb7d5d"/>
<circle cx="341.85" cy="1551.33" r="9.50" fill="#084a92"/>
<circle cx="402.35" cy="1551.33" r="9.50" fill="#08306b"/>
<circle cx="462.85" cy="1551.33" r="9.50" fill="#09529d"/>
<circle cx="523.35" cy="1551.33" r="8.50" fill="#1d6cb1"/>
<circle cx="583.85" cy="1551.33" r="9.50" fill="#084a92"/>
<circle cx="644.35" cy="1551.33" r="7.00" fill="#3e8ec4"/>
<circle cx="704.85" cy="1551.33" r="5.00" fill="#d5e5f4"/>
<circle cx="765.35" cy="1551.33" r="7.50" fill="#90c2de"/>
<circle cx="886.35" cy="1551.33" r="1.00" fill="#b6d4e9"/>
<circle cx="946.85" cy="1551.33" r="3.50" fill="#3e8ec4"/>
<circle cx="1007.35" cy="1551.33" r="3.00" fill="#d7e7f5"/>
<circle cx="341.85" cy="1578.17" r="9.50" fill="#fb6d4d"/>
<circle cx="402.35" cy="1578.17" r="9.50" fill="#f75b40"/>
<circle cx="462.85" cy="1578.17" r="9.50" fill="#fb7050"/>
<circle cx="523.35" cy="1578.17" r="9.50" fill="#f6573e"/>
<circle cx="341.85" cy="1597.28" r="9.50" fill="#083573"/>
<circle cx="402.35" cy="1597.28" r="9.50" fill="#084d96"/>
<circle cx="462.85" cy="1597.28" r="9.50" fill="#084286"/>
<circle cx="523.35" cy="1597.28" r="9.50" fill="#1764ab"/>
<circle cx="583.85" cy="1597.28" r="9.50" fill="#2c7cba"/>
<circle cx="644.35" cy="1597.28" r="8.50" fill="#2676b8"/>
<circle cx="704.85" cy="1597.28" r="6.00" fill="#ddeaf7"/>
<circle cx="765.35" cy="1597.28" r="7.00" fill="#c6dbef"/>
<circle cx="886.35" cy="1597.28" r="2.00" fill="#f1f7fd"/>
<circle cx="341.85" cy="1624.12" r="9.50" fill="#fb7757"/>
<circle cx="402.35" cy="1624.12" r="9.50" fill="#f6573e"/>
<circle cx="462.85" cy="1624.12" r="9.50" fill="#f75b40"/>
<circle cx="523.35" cy="1624.12" r="9.50" fill="#f6573e"/>
<circle cx="341.85" cy="1643.23" r="7.00" fill="#083877"/>
<circle cx="402.35" cy="1643.23" r="6.00" fill="#3b8bc3"/>
<circle cx="462.85" cy="1643.23" r="5.00" fill="#6baed6"/>
<circle cx="523.35" cy="1643.23" r="5.50" fill="#084d96"/>
<circle cx="583.85" cy="1643.23" r="4.00" fill="#1764ab"/>
<circle cx="644.35" cy="1643.23" r="4.00" fill="#3e8ec4"/>
<circle cx="765.35" cy="1643.23" r="1.50" fill="#4a98c9"/>
<circle cx="886.35" cy="1643.23" r="1.50" fill="#e3eef9"/>
<circle cx="341.85" cy="1670.08" r="9.50" fill="#fb6d4d"/>
<circle cx="402.35" cy="1670.08" r="9.50" fill="#fc9070"/>
<circle cx="462.85" cy="1670.08" r="9.50" fill="#fcb196"/>
<circle cx="523.35" cy="1670.08" r="9.50" fill="#fc8464"/>
<circle cx="341.85" cy="1689.18" r="9.50" fill="#1b69af"/>
<circle cx="402.35" cy="1689.18" r="9.50" fill="#08306b"/>
<circle cx="462.85" cy="1689.18" r="9.50" fill="#0f5aa3"/>
<circle cx="523.35" cy="1689.18" r="9.50" fill="#4493c7"/>
<circle cx="583.85" cy="1689.18" r="9.50" fill="#4a98c9"/>
<circle cx="644.35" cy="1689.18" r="9.50" fill="#115da5"/>
<circle cx="704.85" cy="1689.18" r="8.50" fill="#c8dcf0"/>
<circle cx="765.35" cy="1689.18" r="9.50" fill="#7bb7da"/>
<circle cx="886.35" cy="1689.18" r="6.50" fill="#ddeaf7"/>
<circle cx="946.85" cy="1689.18" r="7.50" fill="#b3d3e8"/>
<circle cx="1007.35" cy="1689.18" r="3.00" fill="#f1f7fd"/>
<circle cx="341.85" cy="1716.03" r="9.50" fill="#fcb89d"/>
<circle cx="402.35" cy="1716.03" r="9.50" fill="#fcb499"/>
<circle cx="462.85" cy="1716.03" r="9.50" fill="#fdcdb9"/>
<circle cx="523.35" cy="1716.03" r="9.50" fill="#fc8767"/>
<circle cx="644.35" cy="1716.03" r="9.00" fill="#ffede4"/>
<circle cx="341.85" cy="1735.13" r="9.50" fill="#2979b9"/>
<circle cx="402.35" cy="1735.13" r="9.50" fill="#2171b5"/>
<circle cx="462.85" cy="1735.13" r="9.50" fill="#08306b"/>
<circle cx="523.35" cy="1735.13" r="9.50" fill="#084286"/>
<circle cx="583.85" cy="1735.13" r="9.00" fill="#b9d6eb"/>
<circle cx="644.35" cy="1735.13" r="9.50" fill="#08509a"/>
<circle cx="704.85" cy="1735.13" r="5.50" fill="#c6dbef"/>
<circle cx="765.35" cy="1735.13" r="8.50" fill="#3e8ec4"/>
<circle cx="886.35" cy="1735.13" r="3.00" fill="#f1f7fd"/>
<circle cx="1007.35" cy="1735.13" r="2.00" fill="#f1f7fd"/>
<circle cx="341.85" cy="1761.98" r="9.50" fill="#fdd3c0"/>
<circle cx="402.35" cy="1761.98" r="9.50" fill="#fc9070"/>
<circle cx="462.85" cy="1761.98" r="7.00" fill="#ffebe2"/>
<circle cx="523.35" cy="1761.98" r="9.50" fill="#f34c37"/>
<circle cx="583.85" cy="1761.98" r="9.50" fill="#fcb499"/>
<circle cx="704.85" cy="1761.98" r="9.00" fill="#fedfd0"/>
<circle cx="825.85" cy="1761.98" r="9.50" fill="#fcc4ad"/>
<circle cx="886.35" cy="1761.98" r="9.50" fill="#fcc1a9"/>
<circle cx="341.85" cy="1781.08" r="6.50" fill="#09529d"/>
<circle cx="402.35" cy="1781.08" r="6.50" fill="#3b8bc3"/>
<circle cx="462.85" cy="1781.08" r="7.00" fill="#6baed6"/>
<circle cx="523.35" cy="1781.08" r="7.00" fill="#08306b"/>
<circle cx="583.85" cy="1781.08" r="8.00" fill="#90c2de"/>
<circle cx="644.35" cy="1781.08" r="4.50" fill="#6baed6"/>
<circle cx="704.85" cy="1781.08" r="3.50" fill="#3e8ec4"/>
<circle cx="765.35" cy="1781.08" r="3.00" fill="#c8dcf0"/>
<circle cx="825.85" cy="1781.08" r="5.50" fill="#8cc0dd"/>
<circle cx="886.35" cy="1781.08" r="4.00" fill="#73b2d8"/>
<circle cx="946.85" cy="1781.08" r="6.00" fill="#083b7b"/>
<circle cx="1007.35" cy="1781.08" r="5.00" fill="#4795c8"/>
<circle cx="402.35" cy="1807.92" r="9.50" fill="#fcb499"/>
<circle cx="462.85" cy="1807.92" r="9.50" fill="#fb7757"/>
<circle cx="523.35" cy="1807.92" r="9.50" fill="#fcbba1"/>
<circle cx="644.35" cy="1807.92" r="9.00" fill="#fee9df"/>
<circle cx="704.85" cy="1807.92" r="9.00" fill="#fee3d6"/>
<circle cx="341.85" cy="1827.03" r="5.50" fill="#1d6cb1"/>
<circle cx="402.35" cy="1827.03" r="5.00" fill="#2979b9"/>
<circle cx="462.85" cy="1827.03" r="7.00" fill="#1b69af"/>
<circle cx="523.35" cy="1827.03" r="7.00" fill="#08306b"/>
<circle cx="583.85" cy="1827.03" r="3.00" fill="#90c2de"/>
<circle cx="644.35" cy="1827.03" r="4.00" fill="#084286"/>
<circle cx="765.35" cy="1827.03" r="3.50" fill="#2474b6"/>
<circle cx="886.35" cy="1827.03" r="2.50" fill="#cadef0"/>
<circle cx="402.35" cy="1853.88" r="9.50" fill="#f6573e"/>
<circle cx="462.85" cy="1853.88" r="9.50" fill="#f6573e"/>
<circle cx="704.85" cy="1853.88" r="9.00" fill="#fee4d8"/>
<circle cx="825.85" cy="1853.88" r="9.50" fill="#fb7a5a"/>
<circle cx="946.85" cy="1853.88" r="9.00" fill="#fee4d8"/>
<circle cx="1007.35" cy="1853.88" r="9.00" fill="#fdd3c0"/>
<circle cx="341.85" cy="1872.98" r="9.50" fill="#4795c8"/>
<circle cx="402.35" cy="1872.98" r="9.50" fill="#08306b"/>
<circle cx="462.85" cy="1872.98" r="9.50" fill="#2979b9"/>
<circle cx="523.35" cy="1872.98" r="9.00" fill="#d5e5f4"/>
<circle cx="583.85" cy="1872.98" r="9.00" fill="#5ea5d1"/>
<circle cx="644.35" cy="1872.98" r="9.00" fill="#d3e4f3"/>
<circle cx="704.85" cy="1872.98" r="9.50" fill="#1b69af"/>
<circle cx="765.35" cy="1872.98" r="9.00" fill="#a9cfe5"/>
<circle cx="825.85" cy="1872.98" r="9.50" fill="#08488e"/>
<circle cx="886.35" cy="1872.98" r="9.00" fill="#6baed6"/>
<circle cx="946.85" cy="1872.98" r="9.50" fill="#1f6eb3"/>
<circle cx="1007.35" cy="1872.98" r="9.50" fill="#083d7f"/>
<circle cx="402.35" cy="1899.83" r="9.50" fill="#fc9070"/>
<circle cx="462.85" cy="1899.83" r="9.50" fill="#fcb499"/>
<circle cx="825.85" cy="1899.83" r="9.50" fill="#fc8464"/>
<circle cx="946.85" cy="1899.83" r="9.50" fill="#fedfd0"/>
<circle cx="1007.35" cy="1899.83" r="9.00" fill="#fee8dd"/>
<circle cx="402.35" cy="1918.93" r="9.50" fill="#08306b"/>
<circle cx="462.85" cy="1918.93" r="8.50" fill="#bcd7ec"/>
<circle cx="523.35" cy="1918.93" r="4.00" fill="#f5f9fe"/>
<circle cx="583.85" cy="1918.93" r="8.00" fill="#acd0e6"/>
<circle cx="644.35" cy="1918.93" r="4.00" fill="#f5f9fe"/>
<circle cx="704.85" cy="1918.93" r="7.50" fill="#cadef0"/>
<circle cx="765.35" cy="1918.93" r="2.00" fill="#f1f7fd"/>
<circle cx="886.35" cy="1918.93" r="3.00" fill="#f1f7fd"/>
<circle cx="1007.35" cy="1918.93" r="3.00" fill="#f1f7fd"/>
<circle cx="402.35" cy="1945.78" r="9.50" fill="#fc8767"/>
<circle cx="462.85" cy="1945.78" r="9.50" fill="#ee3a2b"/>
<circle cx="523.35" cy="1945.78" r="9.50" fill="#fcb499"/>
<circle cx="644.35" cy="1945.78" r="9.00" fill="#fee9df"/>
<circle cx="704.85" cy="1945.78" r="9.50" fill="#fca183"/>
<circle cx="341.85" cy="1964.88" r="7.00" fill="#4795c8"/>
<circle cx="402.35" cy="1964.88" r="8.50" fill="#08306b"/>
<circle cx="462.85" cy="1964.88" r="7.50" fill="#6baed6"/>
<circle cx="523.35" cy="1964.88" r="6.00" fill="#2c7cba"/>
<circle cx="583.85" cy="1964.88" r="5.50" fill="#e1edf8"/>
<circle cx="644.35" cy="1964.88" r="6.00" fill="#1d6cb1"/>
<circle cx="704.85" cy="1964.88" r="6.50" fill="#1b69af"/>
<circle cx="765.35" cy="1964.88" r="6.00" fill="#4d9aca"/>
<circle cx="825.85" cy="1964.88" r="5.50" fill="#4a98c9"/>
<circle cx="886.35" cy="1964.88" r="6.00" fill="#0b559f"/>
<circle cx="946.85" cy="1964.88" r="4.50" fill="#08306b"/>
<circle cx="1007.35" cy="1964.88" r="4.00" fill="#1764ab"/>
<circle cx="402.35" cy="1991.73" r="9.50" fill="#ee3a2b"/>
<circle cx="462.85" cy="1991.73" r="9.50" fill="#b31218"/>
<circle cx="523.35" cy="1991.73" r="9.50" fill="#fcb196"/>
<circle cx="644.35" cy="1991.73" r="3.00" fill="#ffeee6"/>
<circle cx="704.85" cy="1991.73" r="9.50" fill="#fcae92"/>
<circle cx="341.85" cy="2010.83" r="9.50" fill="#08306b"/>
<circle cx="402.35" cy="2010.83" r="9.00" fill="#08509a"/>
<circle cx="462.85" cy="2010.83" r="7.00" fill="#acd0e6"/>
<circle cx="583.85" cy="2010.83" r="8.50" fill="#d7e7f5"/>
<circle cx="644.35" cy="2010.83" r="3.00" fill="#90c2de"/>
<circle cx="765.35" cy="2010.83" r="2.00" fill="#e3eef9"/>
<circle cx="341.85" cy="2037.68" r="9.50" fill="#ee3a2b"/>
<circle cx="402.35" cy="2037.68" r="9.00" fill="#fee8dd"/>
<circle cx="462.85" cy="2037.68" r="9.50" fill="#fc8464"/>
<circle cx="523.35" cy="2037.68" r="9.50" fill="#fcb196"/>
<circle cx="341.85" cy="2056.78" r="9.50" fill="#08306b"/>
<circle cx="402.35" cy="2056.78" r="9.00" fill="#90c2de"/>
<circle cx="462.85" cy="2056.78" r="9.00" fill="#acd0e6"/>
<circle cx="523.35" cy="2056.78" r="9.00" fill="#4d9aca"/>
<circle cx="583.85" cy="2056.78" r="9.50" fill="#5ba3d0"/>
<circle cx="644.35" cy="2056.78" r="9.00" fill="#90c2de"/>
<circle cx="704.85" cy="2056.78" r="9.00" fill="#c8dcf0"/>
<circle cx="765.35" cy="2056.78" r="9.00" fill="#ccdff1"/>
<circle cx="825.85" cy="2056.78" r="9.00" fill="#9cc9e1"/>
<circle cx="886.35" cy="2056.78" r="8.50" fill="#d3e4f3"/>
<circle cx="946.85" cy="2056.78" r="8.00" fill="#c3daee"/>
<circle cx="1007.35" cy="2056.78" r="8.50" fill="#d0e1f2"/>
<circle cx="341.85" cy="2083.62" r="9.50" fill="#fb7757"/>
<circle cx="402.35" cy="2083.62" r="9.50" fill="#fedfd0"/>
<circle cx="462.85" cy="2083.62" r="9.50" fill="#fee6da"/>
<circle cx="523.35" cy="2083.62" r="9.50" fill="#fc9778"/>
<circle cx="341.85" cy="2102.72" r="9.50" fill="#08336f"/>
<circle cx="402.35" cy="2102.72" r="9.00" fill="#08306b"/>
<circle cx="462.85" cy="2102.72" r="8.00" fill="#f2f8fd"/>
<circle cx="523.35" cy="2102.72" r="7.00" fill="#f2f8fd"/>
<circle cx="644.35" cy="2102.72" r="6.00" fill="#f2f8fd"/>
<circle cx="704.85" cy="2102.72" r="8.00" fill="#4a98c9"/>
<circle cx="765.35" cy="2102.72" r="7.00" fill="#f2f8fd"/>
<circle cx="825.85" cy="2102.72" r="7.50" fill="#cadef0"/>
<circle cx="886.35" cy="2102.72" r="7.00" fill="#d0e1f2"/>
<circle cx="946.85" cy="2102.72" r="7.00" fill="#cee0f2"/>
<circle cx="1007.35" cy="2102.72" r="9.00" fill="#083573"/>
<line x1="302" y1="117.47" x2="311.8" y2="117.47" stroke="#000" stroke-width="3.3"/>
<text x="289" y="128.28" font-size="27.4" text-anchor="end" fill="#000"><tspan font-style="italic">Sox2</tspan> (CGE)</text>
<line x1="302" y1="163.43" x2="311.8" y2="163.43" stroke="#000" stroke-width="3.3"/>
<text x="289" y="174.23" font-size="27.4" text-anchor="end" fill="#000"><tspan font-style="italic">Sox1</tspan> (CGE)</text>
<line x1="302" y1="209.38" x2="311.8" y2="209.38" stroke="#000" stroke-width="3.3"/>
<text x="289" y="220.18" font-size="27.4" text-anchor="end" fill="#000"><tspan font-style="italic">Arx</tspan> (CGE)</text>
<line x1="302" y1="255.33" x2="311.8" y2="255.33" stroke="#000" stroke-width="3.3"/>
<text x="289" y="266.12" font-size="27.4" text-anchor="end" fill="#000"><tspan font-style="italic">Nr3c2</tspan> (CGE)</text>
<line x1="302" y1="301.27" x2="311.8" y2="301.27" stroke="#000" stroke-width="3.3"/>
<text x="289" y="312.07" font-size="27.4" text-anchor="end" fill="#000"><tspan font-style="italic">Arid5a</tspan> (Lamp5)</text>
<line x1="302" y1="347.23" x2="311.8" y2="347.23" stroke="#000" stroke-width="3.3"/>
<text x="289" y="358.03" font-size="27.4" text-anchor="end" fill="#000"><tspan font-style="italic">Maf</tspan> (MGE)</text>
<line x1="302" y1="393.18" x2="311.8" y2="393.18" stroke="#000" stroke-width="3.3"/>
<text x="289" y="403.98" font-size="27.4" text-anchor="end" fill="#000"><tspan font-style="italic">Mafb</tspan> (MGE)</text>
<line x1="302" y1="439.12" x2="311.8" y2="439.12" stroke="#000" stroke-width="3.3"/>
<text x="289" y="449.93" font-size="27.4" text-anchor="end" fill="#000"><tspan font-style="italic">Lhx6</tspan> (MGE)</text>
<line x1="302" y1="485.08" x2="311.8" y2="485.08" stroke="#000" stroke-width="3.3"/>
<text x="289" y="495.88" font-size="27.4" text-anchor="end" fill="#000"><tspan font-style="italic">Rarb</tspan> (Pvalb)</text>
<line x1="302" y1="531.03" x2="311.8" y2="531.03" stroke="#000" stroke-width="3.3"/>
<text x="289" y="541.83" font-size="27.4" text-anchor="end" fill="#000"><tspan font-style="italic">Ets1</tspan> (Pvalb)</text>
<line x1="302" y1="576.98" x2="311.8" y2="576.98" stroke="#000" stroke-width="3.3"/>
<text x="289" y="587.77" font-size="27.4" text-anchor="end" fill="#000"><tspan font-style="italic">Esr1</tspan> (Pvalb)</text>
<line x1="302" y1="622.93" x2="311.8" y2="622.93" stroke="#000" stroke-width="3.3"/>
<text x="289" y="633.73" font-size="27.4" text-anchor="end" fill="#000"><tspan font-style="italic">Esrrg</tspan> (Pvalb)</text>
<line x1="302" y1="668.88" x2="311.8" y2="668.88" stroke="#000" stroke-width="3.3"/>
<text x="289" y="679.67" font-size="27.4" text-anchor="end" fill="#000"><tspan font-style="italic">Esrrb</tspan> (Pvalb)</text>
<line x1="302" y1="714.83" x2="311.8" y2="714.83" stroke="#000" stroke-width="3.3"/>
<text x="289" y="725.62" font-size="27.4" text-anchor="end" fill="#000"><tspan font-style="italic">Esrra</tspan> (Pvalb)</text>
<line x1="302" y1="760.78" x2="311.8" y2="760.78" stroke="#000" stroke-width="3.3"/>
<text x="289" y="771.58" font-size="27.4" text-anchor="end" fill="#000"><tspan font-style="italic">Pparg</tspan> (Pvalb)</text>
<line x1="302" y1="806.73" x2="311.8" y2="806.73" stroke="#000" stroke-width="3.3"/>
<text x="289" y="817.52" font-size="27.4" text-anchor="end" fill="#000"><tspan font-style="italic">Bach1</tspan> (Pvalb)</text>
<line x1="302" y1="852.68" x2="311.8" y2="852.68" stroke="#000" stroke-width="3.3"/>
<text x="289" y="863.48" font-size="27.4" text-anchor="end" fill="#000"><tspan font-style="italic">Dlx6</tspan> (Inh)</text>
<line x1="302" y1="898.62" x2="311.8" y2="898.62" stroke="#000" stroke-width="3.3"/>
<text x="289" y="909.42" font-size="27.4" text-anchor="end" fill="#000"><tspan font-style="italic">Dlx5</tspan> (Inh)</text>
<line x1="302" y1="944.58" x2="311.8" y2="944.58" stroke="#000" stroke-width="3.3"/>
<text x="289" y="955.38" font-size="27.4" text-anchor="end" fill="#000"><tspan font-style="italic">Dlx2</tspan> (Inh)</text>
<line x1="302" y1="990.53" x2="311.8" y2="990.53" stroke="#000" stroke-width="3.3"/>
<text x="289" y="1001.33" font-size="27.4" text-anchor="end" fill="#000"><tspan font-style="italic">Dlx1</tspan> (Inh)</text>
<line x1="302" y1="1036.47" x2="311.8" y2="1036.47" stroke="#000" stroke-width="3.3"/>
<text x="289" y="1047.27" font-size="27.4" text-anchor="end" fill="#000"><tspan font-style="italic">Nfix</tspan> (CGE, L6 CT, L6b)</text>
<line x1="302" y1="1082.43" x2="311.8" y2="1082.43" stroke="#000" stroke-width="3.3"/>
<text x="289" y="1093.23" font-size="27.4" text-anchor="end" fill="#000"><tspan font-style="italic">Nfib</tspan> (CGE, L6 CT, L6b)</text>
<line x1="302" y1="1128.38" x2="311.8" y2="1128.38" stroke="#000" stroke-width="3.3"/>
<text x="289" y="1139.17" font-size="27.4" text-anchor="end" fill="#000"><tspan font-style="italic">Nfia</tspan> (CGE, L6 CT, L6b)</text>
<line x1="302" y1="1174.33" x2="311.8" y2="1174.33" stroke="#000" stroke-width="3.3"/>
<text x="289" y="1185.12" font-size="27.4" text-anchor="end" fill="#000"><tspan font-style="italic">Etv1</tspan> (NP)</text>
<line x1="302" y1="1220.28" x2="311.8" y2="1220.28" stroke="#000" stroke-width="3.3"/>
<text x="289" y="1231.08" font-size="27.4" text-anchor="end" fill="#000"><tspan font-style="italic">Bhlhe22</tspan> (NP, L4/5 IT)</text>
<line x1="302" y1="1266.23" x2="311.8" y2="1266.23" stroke="#000" stroke-width="3.3"/>
<text x="289" y="1277.03" font-size="27.4" text-anchor="end" fill="#000"><tspan font-style="italic">Ascl1</tspan> (NP)</text>
<line x1="302" y1="1312.18" x2="311.8" y2="1312.18" stroke="#000" stroke-width="3.3"/>
<text x="289" y="1322.98" font-size="27.4" text-anchor="end" fill="#000"><tspan font-style="italic">Zeb1</tspan> (NP)</text>
<line x1="302" y1="1358.12" x2="311.8" y2="1358.12" stroke="#000" stroke-width="3.3"/>
<text x="289" y="1368.92" font-size="27.4" text-anchor="end" fill="#000"><tspan font-style="italic">Pou3f4</tspan> (L5 ET)</text>
<line x1="302" y1="1404.08" x2="311.8" y2="1404.08" stroke="#000" stroke-width="3.3"/>
<text x="289" y="1414.88" font-size="27.4" text-anchor="end" fill="#000"><tspan font-style="italic">Pou3f3</tspan> (L5 ET)</text>
<line x1="302" y1="1450.03" x2="311.8" y2="1450.03" stroke="#000" stroke-width="3.3"/>
<text x="289" y="1460.83" font-size="27.4" text-anchor="end" fill="#000"><tspan font-style="italic">Pou3f2</tspan> (L5 ET)</text>
<line x1="302" y1="1495.98" x2="311.8" y2="1495.98" stroke="#000" stroke-width="3.3"/>
<text x="289" y="1506.78" font-size="27.4" text-anchor="end" fill="#000"><tspan font-style="italic">Pou3f1</tspan> (L5 ET)</text>
<line x1="302" y1="1541.93" x2="311.8" y2="1541.93" stroke="#000" stroke-width="3.3"/>
<text x="289" y="1552.73" font-size="27.4" text-anchor="end" fill="#000"><tspan font-style="italic">Egr4</tspan> (IT)</text>
<line x1="302" y1="1587.88" x2="311.8" y2="1587.88" stroke="#000" stroke-width="3.3"/>
<text x="289" y="1598.67" font-size="27.4" text-anchor="end" fill="#000"><tspan font-style="italic">Egr3</tspan> (IT)</text>
<line x1="302" y1="1633.83" x2="311.8" y2="1633.83" stroke="#000" stroke-width="3.3"/>
<text x="289" y="1644.62" font-size="27.4" text-anchor="end" fill="#000"><tspan font-style="italic">Egr2</tspan> (IT)</text>
<line x1="302" y1="1679.78" x2="311.8" y2="1679.78" stroke="#000" stroke-width="3.3"/>
<text x="289" y="1690.58" font-size="27.4" text-anchor="end" fill="#000"><tspan font-style="italic">Egr1</tspan> (IT)</text>
<line x1="302" y1="1725.73" x2="311.8" y2="1725.73" stroke="#000" stroke-width="3.3"/>
<text x="289" y="1736.53" font-size="27.4" text-anchor="end" fill="#000"><tspan font-style="italic">Klf10</tspan> (IT)</text>
<line x1="302" y1="1771.68" x2="311.8" y2="1771.68" stroke="#000" stroke-width="3.3"/>
<text x="289" y="1782.48" font-size="27.4" text-anchor="end" fill="#000"><tspan font-style="italic">Fosl2</tspan> (L6 IT)</text>
<line x1="302" y1="1817.62" x2="311.8" y2="1817.62" stroke="#000" stroke-width="3.3"/>
<text x="289" y="1828.42" font-size="27.4" text-anchor="end" fill="#000"><tspan font-style="italic">Twist2</tspan> (L5/6 IT)</text>
<line x1="302" y1="1863.58" x2="311.8" y2="1863.58" stroke="#000" stroke-width="3.3"/>
<text x="289" y="1874.38" font-size="27.4" text-anchor="end" fill="#000"><tspan font-style="italic">Rora</tspan> (L4/5 IT, Pvalb)</text>
<line x1="302" y1="1909.53" x2="311.8" y2="1909.53" stroke="#000" stroke-width="3.3"/>
<text x="289" y="1920.33" font-size="27.4" text-anchor="end" fill="#000"><tspan font-style="italic">Rorb</tspan> (L4/5 IT)</text>
<line x1="302" y1="1955.48" x2="311.8" y2="1955.48" stroke="#000" stroke-width="3.3"/>
<text x="289" y="1966.28" font-size="27.4" text-anchor="end" fill="#000"><tspan font-style="italic">Atoh7</tspan> (L4/5 IT)</text>
<line x1="302" y1="2001.43" x2="311.8" y2="2001.43" stroke="#000" stroke-width="3.3"/>
<text x="289" y="2012.23" font-size="27.4" text-anchor="end" fill="#000"><tspan font-style="italic">Neurod1</tspan> (L4/5 IT)</text>
<line x1="302" y1="2047.38" x2="311.8" y2="2047.38" stroke="#000" stroke-width="3.3"/>
<text x="289" y="2058.18" font-size="27.4" text-anchor="end" fill="#000"><tspan font-style="italic">Rfx3</tspan> (L2/3 IT)</text>
<line x1="302" y1="2093.32" x2="311.8" y2="2093.32" stroke="#000" stroke-width="3.3"/>
<text x="289" y="2104.12" font-size="27.4" text-anchor="end" fill="#000"><tspan font-style="italic">Rreb1</tspan> (L2/3 IT)</text>
<line x1="341.85" y1="2116.30" x2="341.85" y2="2127.5" stroke="#000" stroke-width="3.5"/>
<text transform="translate(350.25 2138.5) rotate(-90)" font-size="27.4" text-anchor="end" fill="#000">L2/3 IT</text>
<line x1="402.35" y1="2116.30" x2="402.35" y2="2127.5" stroke="#000" stroke-width="3.5"/>
<text transform="translate(410.75 2138.5) rotate(-90)" font-size="27.4" text-anchor="end" fill="#000">L4/5 IT</text>
<line x1="462.85" y1="2116.30" x2="462.85" y2="2127.5" stroke="#000" stroke-width="3.5"/>
<text transform="translate(471.25 2138.5) rotate(-90)" font-size="27.4" text-anchor="end" fill="#000">L5 IT</text>
<line x1="523.35" y1="2116.30" x2="523.35" y2="2127.5" stroke="#000" stroke-width="3.5"/>
<text transform="translate(531.75 2138.5) rotate(-90)" font-size="27.4" text-anchor="end" fill="#000">L6 IT</text>
<line x1="583.85" y1="2116.30" x2="583.85" y2="2127.5" stroke="#000" stroke-width="3.5"/>
<text transform="translate(592.25 2138.5) rotate(-90)" font-size="27.4" text-anchor="end" fill="#000">L5 ET</text>
<line x1="644.35" y1="2116.30" x2="644.35" y2="2127.5" stroke="#000" stroke-width="3.5"/>
<text transform="translate(652.75 2138.5) rotate(-90)" font-size="27.4" text-anchor="end" fill="#000">L6 CT</text>
<line x1="704.85" y1="2116.30" x2="704.85" y2="2127.5" stroke="#000" stroke-width="3.5"/>
<text transform="translate(713.25 2138.5) rotate(-90)" font-size="27.4" text-anchor="end" fill="#000">L5/6 NP</text>
<line x1="765.35" y1="2116.30" x2="765.35" y2="2127.5" stroke="#000" stroke-width="3.5"/>
<text transform="translate(773.75 2138.5) rotate(-90)" font-size="27.4" text-anchor="end" fill="#000">L6b</text>
<line x1="825.85" y1="2116.30" x2="825.85" y2="2127.5" stroke="#000" stroke-width="3.5"/>
<text transform="translate(834.25 2138.5) rotate(-90)" font-size="27.4" text-anchor="end" fill="#000">Pvalb</text>
<line x1="886.35" y1="2116.30" x2="886.35" y2="2127.5" stroke="#000" stroke-width="3.5"/>
<text transform="translate(894.75 2138.5) rotate(-90)" font-size="27.4" text-anchor="end" fill="#000">Sst</text>
<line x1="946.85" y1="2116.30" x2="946.85" y2="2127.5" stroke="#000" stroke-width="3.5"/>
<text transform="translate(955.25 2138.5) rotate(-90)" font-size="27.4" text-anchor="end" fill="#000">Vip</text>
<line x1="1007.35" y1="2116.30" x2="1007.35" y2="2127.5" stroke="#000" stroke-width="3.5"/>
<text transform="translate(1015.75 2138.5) rotate(-90)" font-size="27.4" text-anchor="end" fill="#000">Lamp5</text>
<text x="632" y="27.5" font-size="29.2" text-anchor="middle" fill="#000">Transcription Factors RNA Expression and</text>
<text x="631.8" y="62.7" font-size="29.2" text-anchor="middle" fill="#000">Motif Enrichment in MOp Subclasses</text>
<text x="1142.0" y="1126.0" font-size="21.5" text-anchor="middle" fill="#000">RNA</text>
<text x="1142.0" y="1152.0" font-size="21.5" text-anchor="middle" fill="#000">Expression</text>
<text x="1142.0" y="1177.8" font-size="21.5" text-anchor="middle" fill="#000">Legend</text>
<rect x="1071" y="1191" width="141" height="406" rx="28" ry="28" fill="none" stroke="#8a8a8a" stroke-width="2" stroke-dasharray="4.8 3.7"/>
<text x="1143.0" y="1217.0" font-size="21.5" text-anchor="middle" fill="#000">Fraction of</text>
<text x="1143.0" y="1243.0" font-size="21.5" text-anchor="middle" fill="#000">Row Max</text>
<defs><linearGradient id="gr" x1="0" y1="1" x2="0" y2="0"><stop offset="0" stop-color="#fde9e5"/><stop offset="0.5" stop-color="#f8bdb5"/><stop offset="1" stop-color="#f07f72"/></linearGradient><linearGradient id="gb" x1="0" y1="1" x2="0" y2="0"><stop offset="0" stop-color="#e8eff8"/><stop offset="0.5" stop-color="#94b9dc"/><stop offset="1" stop-color="#3f7cbd"/></linearGradient></defs>
<path d="M1128.5 1258.5 L1135.5 1263.0 L1135.5 1361.0 L1128.5 1366.0 L1121.5 1361.0 L1121.5 1263.0 Z" fill="url(#gr)" stroke="#000" stroke-width="2.3" stroke-linejoin="miter"/>
<line x1="1135.5" y1="1263.5" x2="1147" y2="1263.5" stroke="#000" stroke-width="1.8"/>
<line x1="1135.5" y1="1315.1" x2="1147" y2="1315.1" stroke="#000" stroke-width="1.8"/>
<line x1="1135.5" y1="1361.2" x2="1147" y2="1361.2" stroke="#000" stroke-width="1.8"/>
<text x="1154.0" y="1271.5" font-size="21.5" text-anchor="start" fill="#000">1</text>
<text x="1153.0" y="1369.0" font-size="21.5" text-anchor="start" fill="#000">0</text>
<text x="1087.0" y="1405.0" font-size="21.5" text-anchor="start" fill="#000">Fraction of</text>
<text x="1087.0" y="1431.0" font-size="21.5" text-anchor="start" fill="#000">cells with</text>
<text x="1087.0" y="1457.0" font-size="21.5" text-anchor="start" fill="#000">CPM &gt; 0</text>
<circle cx="1110" cy="1480.5" r="12.3" fill="#e8380e"/>
<circle cx="1110" cy="1521" r="8.6" fill="#e8380e"/>
<circle cx="1110.5" cy="1562.5" r="1.4" fill="#c04030"/>
<text x="1133.5" y="1488.0" font-size="21.5" text-anchor="start" fill="#000">1</text>
<text x="1133.5" y="1528.5" font-size="21.5" text-anchor="start" fill="#000">0.5</text>
<text x="1133.5" y="1568.5" font-size="21.5" text-anchor="start" fill="#000">0.01</text>
<text x="1142.0" y="1710.0" font-size="21.5" text-anchor="middle" fill="#000">Motif</text>
<text x="1142.0" y="1736.0" font-size="21.5" text-anchor="middle" fill="#000">Enrichment</text>
<text x="1142.0" y="1762.0" font-size="21.5" text-anchor="middle" fill="#000">Legend</text>
<rect x="1071" y="1777" width="141" height="336.5" rx="28" ry="28" fill="none" stroke="#8a8a8a" stroke-width="2" stroke-dasharray="4.8 3.7"/>
<text x="1143.0" y="1807.0" font-size="21.5" text-anchor="middle" fill="#000">Log2OR</text>
<path d="M1123.5 1825.0 L1130.5 1830.0 L1130.5 1928.0 L1123.5 1933.0 L1116.5 1928.0 L1116.5 1830.0 Z" fill="url(#gb)" stroke="#000" stroke-width="2.3" stroke-linejoin="miter"/>
<line x1="1130.5" y1="1829.6" x2="1141" y2="1829.6" stroke="#000" stroke-width="1.8"/>
<line x1="1130.5" y1="1878.8" x2="1141" y2="1878.8" stroke="#000" stroke-width="1.8"/>
<line x1="1130.5" y1="1926.0" x2="1141" y2="1926.0" stroke="#000" stroke-width="1.8"/>
<text transform="translate(1160 1829.3) rotate(-90)" font-size="21.5" text-anchor="middle" fill="#000">2</text>
<text transform="translate(1160 1926.5) rotate(-90)" font-size="21.5" text-anchor="middle" fill="#000">1</text>
<text x="1143.0" y="1969.0" font-size="21.5" text-anchor="middle" fill="#000">Adj. P-value</text>
<circle cx="1111.2" cy="2000.2" r="13" fill="#1a7dc0"/>
<circle cx="1111.2" cy="2043.5" r="9" fill="#1a7dc0"/>
<circle cx="1111.2" cy="2087.6" r="1.2" fill="#1a7dc0"/>
<text x="1134.3" y="2007.0" font-size="21.5" text-anchor="start" fill="#000">1e-10</text>
<text x="1134.3" y="2050.0" font-size="21.5" text-anchor="start" fill="#000">1e-6</text>
<text x="1134.3" y="2094.0" font-size="21.5" text-anchor="start" fill="#000">1e-3</text>
</svg></body></html>
